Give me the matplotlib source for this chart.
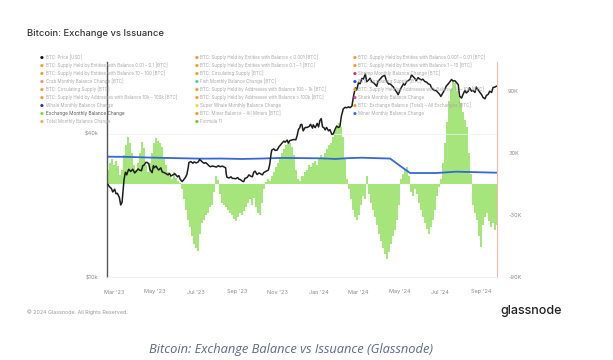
import matplotlib
matplotlib.use("Agg")
import matplotlib.pyplot as plt
import numpy as np
import pandas as pd

# ---------------- data ----------------
start_date = "2023-02-20"

# Exchange Monthly Balance Change [K BTC], one bar every 3 days
bar_step_days = 3
exchange_change = [
    14, 20, 24, 18, 22, 17, 9, 14, 28, 38, 45, 40, 30, 18, 14, 20, 30, 41, 35, 18,
    12, 20, 30, 40, 44, 42, 40, 36, 25, 18, 12, 8, 5, 12, 6, 3, 1, -5, -15, -25,
    -35, -42, -50, -58, -62, -65, -48, -38, -35, -30, -28, -22, -20, -8, 8, 4, -10, -18, -20, -22,
    -25, -28, -30, -34, -36, -32, -28, -30, -26, -22, -18, -15, -20, -14, -22, -28, -30, -18, -5, 2,
    5, 3, 8, 12, 16, 20, 25, 30, 34, 38, 42, 40, 36, 28, 14, 5, 3, 8, 12, 14,
    18, 16, 20, 22, 18, 25, 28, 26, 30, 34, 38, 40, 45, 52, 57, 59, 55, 45, 25, 5,
    -5, -15, -25, -32, -35, -30, -20, -12, -15, 8, -10, -18, -25, -32, -40, -48, -55, -62, -68, -73,
    -66, -58, -50, -45, -35, -20, 5, 10, 14, 16, 8, -8, -12, -5, -10, -18, -25, -32, -38, -44,
    -48, -42, -35, -25, -12, -3, 5, 20, 40, 60, 80, 92, 100, 98, 90, 85, 78, 70, 62, 55,
    30, 10, -20, -28, -35, -50, -61, -40, -32, -28, -36, -42, -38, -45, -40,
]

# BTC price [USD thousands]
price_day = [
    0, 2, 5, 7, 10, 12, 14, 17, 19, 21, 22, 24, 26, 28, 29, 31, 34, 37, 40, 42,
    45, 47, 50, 52, 54, 57, 59, 61, 63, 64, 66, 68, 69, 72, 74, 76, 79, 81, 84, 87,
    90, 92, 94, 97, 100, 102, 104, 106, 108, 111, 113, 116, 118, 120, 121, 124, 127, 129, 132, 135,
    137, 139, 142, 144, 146, 149, 151, 153, 156, 159, 162, 165, 168, 171, 174, 176, 177, 178, 181, 184,
    186, 188, 191, 194, 196, 198, 201, 203, 205, 208, 211, 213, 216, 218, 220, 223, 226, 229, 231, 233,
    236, 238, 240, 242, 244, 245, 248, 250, 253, 256, 258, 260, 263, 265, 268, 270, 272, 275, 278, 281,
    283, 285, 287, 288, 290, 292, 295, 298, 301, 303, 306, 307, 310, 313, 315, 317, 319, 321, 323, 325,
    327, 330, 332, 335, 337, 340, 342, 345, 347, 349, 352, 355, 357, 360, 362, 365, 367, 370, 372, 375,
    377, 380, 382, 385, 387, 390, 392, 395, 397, 400, 402, 404, 407, 410, 412, 414, 417, 420, 422, 425,
    427, 430, 432, 434, 437, 439, 442, 444, 447, 450, 452, 454, 456, 459, 461, 464, 466, 469, 471, 474,
    477, 479, 482, 484, 486, 489, 491, 493, 496, 498, 501, 504, 506, 509, 511, 514, 516, 519, 521, 524,
    526, 529, 531, 534, 536, 539, 541, 544, 546, 549, 551, 554, 556, 559, 561, 564, 566, 569, 571, 574,
    576, 579, 581,
]
price_k = [
    24.5, 24.0, 23.6, 22.8, 23.4, 22.4, 22.5, 21.6, 20.1, 20.6, 22.1, 25.7, 27.6, 26.9, 27.5, 28.4, 27.8, 28.4, 27.4, 27.8,
    28.5, 28.2, 28.0, 29.4, 29.6, 30.4, 30.3, 29.9, 28.2, 28.0, 27.5, 29.4, 28.8, 29.3, 28.6, 28.2, 28.8, 27.7, 27.5, 27.2,
    26.9, 27.3, 26.6, 26.9, 27.2, 26.8, 26.4, 26.7, 25.8, 25.2, 25.6, 26.3, 27.0, 28.9, 30.3, 30.6, 30.1, 30.5, 30.2, 30.5,
    31.2, 30.9, 30.3, 30.1, 30.3, 29.8, 29.4, 29.1, 29.3, 29.2, 29.0, 29.4, 29.1, 29.3, 29.0, 28.8, 27.0, 26.3, 26.1, 26.4,
    26.0, 26.0, 25.9, 26.2, 25.8, 25.7, 25.3, 25.2, 26.0, 26.2, 26.9, 26.6, 26.4, 27.6, 27.9, 27.0, 27.4, 27.1, 26.9, 27.5,
    27.8, 28.0, 28.2, 29.8, 33.0, 34.2, 34.6, 34.1, 34.2, 35.4, 35.9, 36.5, 37.3, 36.9, 37.7, 36.6, 37.5, 37.7, 37.9, 37.8,
    39.4, 41.8, 42.5, 43.7, 43.9, 41.2, 42.6, 42.6, 43.0, 43.9, 42.3, 43.7, 42.5, 44.3, 42.8, 45.5, 46.4, 42.8, 42.5, 41.6,
    42.6, 41.2, 41.7, 39.8, 40.0, 42.0, 43.1, 42.6, 43.0, 47.3, 51.0, 51.8, 51.5, 52.0, 51.6, 52.4, 57.0, 62.5, 61.2, 66.0,
    65.0, 68.5, 68.0, 71.5, 66.3, 67.5, 68.6, 66.0, 65.8, 64.5, 63.5, 66.5, 68.0, 69.6, 70.2, 70.5, 66.5, 64.8, 65.0, 63.8,
    63.0, 61.0, 60.0, 58.5, 61.0, 62.8, 65.0, 64.2, 66.5, 67.3, 68.0, 70.8, 70.0, 68.5, 67.0, 69.0, 68.2, 67.5, 68.0, 66.5,
    66.0, 65.0, 64.5, 62.5, 61.6, 60.8, 61.0, 60.0, 58.8, 57.5, 59.5, 61.6, 63.5, 65.0, 66.0, 67.8, 66.8, 67.0, 66.0, 64.5,
    57.7, 56.6, 58.5, 61.0, 59.5, 60.5, 62.5, 60.5, 61.0, 59.8, 63.0, 61.2, 60.0, 58.5, 57.0, 56.2, 58.0, 58.8, 60.5, 59.8,
    62.7, 63.0, 63.5,
]

# Blue series (right axis, K)
blue_day = [0, 30, 60, 100, 140, 170, 200, 230, 260, 290, 320, 340, 360, 380, 400, 422, 437, 452, 491, 521, 550, 582]
blue_k = [26.4, 26.2, 25.6, 25.0, 24.5, 24.6, 24.2, 24.6, 25.2, 25.0, 24.8, 24.2, 25.0, 25.4, 25.0, 24.6, 17.5, 10.6, 10.6, 11.9, 11.4, 10.9]

x_tick_dates = ["2023-03-01", "2023-05-01", "2023-07-01", "2023-09-01", "2023-11-01",
                "2024-01-01", "2024-03-01", "2024-05-01", "2024-07-01", "2024-09-01"]
x_tick_labels = ["Mar '23", "May '23", "Jul '23", "Sep '23", "Nov '23",
                 "Jan '24", "Mar '24", "May '24", "Jul '24", "Sep '24"]
left_ticks = [10000, 40000]
left_tick_labels = ["$10k", "$40k"]
right_ticks = [-90, -30, 30, 90]
right_tick_labels = ["-90K", "-30K", "30K", "90K"]

legend_cols = [
    [("BTC: Price [USD]", "#111111"),
     ("BTC: Supply Held by Entities with Balance 0.01 – 0.1 [BTC]", "#f29a2e"),
     ("BTC: Supply Held by Entities with Balance 10 – 100 [BTC]", "#f29a2e"),
     ("Crab Monthly Balance Change [BTC]", "#f08a80"),
     ("BTC: Circulating Supply [BTC]", "#f29a2e"),
     ("BTC: Supply Held by Addresses with Balance 10k – 100k [BTC]", "#f29a2e"),
     ("Whale Monthly Balance Change", "#3a2d9c"),
     ("Exchange Monthly Balance Change", "#7fd34a"),
     ("Total Monthly Balance Change", "#e7b04a")],
    [("BTC: Supply Held by Entities with Balance < 0.001 [BTC]", "#f29a2e"),
     ("BTC: Supply Held by Entities with Balance 0.1 – 1 [BTC]", "#f29a2e"),
     ("BTC: Circulating Supply [BTC]", "#f29a2e"),
     ("Fish Monthly Balance Change [BTC]", "#5cc0b5"),
     ("BTC: Supply Held by Addresses with Balance 100 – 1k [BTC]", "#f29a2e"),
     ("BTC: Supply Held by Addresses with Balance > 100k [BTC]", "#f29a2e"),
     ("Super Whale Monthly Balance Change", "#e8d83a"),
     ("BTC: Miner Balance – All Miners [BTC]", "#f29a2e"),
     ("Formula 11", "#6cc53a")],
    [("BTC: Supply Held by Entities with Balance 0.001 – 0.01 [BTC]", "#f29a2e"),
     ("BTC: Supply Held by Entities with Balance 1 – 10 [BTC]", "#f29a2e"),
     ("Shrimp Monthly Balance Change [BTC]", "#c23a5e"),
     ("BTC: Circulating Supply [BTC]", "#1f4fe0"),
     ("BTC: Supply Held by Addresses with Balance 1k – 10k [BTC]", "#f29a2e"),
     ("Shark Monthly Balance Change", "#d5449f"),
     ("BTC: Exchange Balance (Total) – All Exchanges [BTC]", "#f29a2e"),
     ("Miner Monthly Balance Change", "#3a70d0")],
]

# ---------------- figure ----------------
plt.rcParams['font.family'] = ['Inter', 'DejaVu Sans']
W, H = 613, 360
fig = plt.figure(figsize=(W / 100, H / 100), dpi=100)
fig.patch.set_facecolor("white")

L, R, T, B = 107, 497, 62, 277
ax = fig.add_axes([L / W, 1 - B / H, (R - L) / W, (B - T) / H])
axp = ax.twinx()

t0 = pd.Timestamp(start_date)
bar_dates = t0 + pd.to_timedelta(np.arange(len(exchange_change)) * bar_step_days, unit="D")
ax.bar(bar_dates, exchange_change, width=3.0, color="#a6e57c", linewidth=0, zorder=2)

blue_dates = t0 + pd.to_timedelta(blue_day, unit="D")
ax.plot(blue_dates, blue_k, color="#3568d4", lw=1.3, zorder=3)

price_dates = t0 + pd.to_timedelta(price_day, unit="D")
axp.plot(price_dates, np.array(price_k) * 1000, color="#1d1d1d", lw=1.1, zorder=4)

x0 = t0 - pd.Timedelta(days=1.5)
x1 = t0 + pd.Timedelta(days=582)
ax.set_xlim(x0, x1)
ax.set_ylim(-90, 118)
axp.set_yscale("log")
axp.set_ylim(10000, 80300)

ax.yaxis.tick_right()
ax.set_yticks(right_ticks)
ax.set_yticklabels(right_tick_labels)
axp.yaxis.tick_left()
axp.set_yticks(left_ticks)
axp.set_yticklabels(left_tick_labels)
axp.yaxis.set_minor_locator(matplotlib.ticker.NullLocator())

ax.set_xticks(pd.to_datetime(x_tick_dates))
ax.set_xticklabels(x_tick_labels)

for a in (ax, axp):
    a.tick_params(axis="both", length=0, labelsize=4, labelcolor="#8a8a8a", pad=6)
    for s in a.spines.values():
        s.set_visible(False)
ax.tick_params(axis="y", pad=8)
axp.tick_params(axis="y", pad=6)
ax.tick_params(axis="x", pad=9)

axp.spines["left"].set_visible(True)
axp.spines["left"].set_color("#555555")
axp.spines["left"].set_linewidth(1.0)
axp.spines["right"].set_visible(True)
axp.spines["right"].set_color("#f2b9aa")
axp.spines["right"].set_linewidth(0.8)
axp.spines["bottom"].set_visible(True)
axp.spines["bottom"].set_color("#eeeeee")
axp.spines["bottom"].set_linewidth(0.6)

axp.axhline(40000, color="#f2f2f2", lw=0.5, zorder=0)

# ---------------- title & legend ----------------
fig.text(27 / W, 1 - 34 / H, "Bitcoin: Exchange vs Issuance", fontsize=6.8,
         color="#333333", fontweight="medium", va="center", ha="left")

col_x = [42, 197, 355]
row_y0, row_dy = 57.5, 8.0
for ci, col in enumerate(legend_cols):
    for ri, (label, c) in enumerate(col):
        y = 1 - (row_y0 + ri * row_dy) / H
        fig.text(col_x[ci] / W, y, "●", fontsize=3.2, color=c, va="center", ha="center",
                 family=["DejaVu Sans"])
        bold = label == "Exchange Monthly Balance Change"
        fig.text((col_x[ci] + 3.5) / W, y, label, fontsize=3.2 if not bold else 3.4,
                 color="#555555" if bold else "#a8a8a8", va="center", ha="left")

# ---------------- footer ----------------
fig.text(27 / W, 1 - 312 / H, "© 2024 Glassnode. All Rights Reserved.", fontsize=3.8,
         color="#9a9a9a", va="center", ha="left")
fig.text(531 / W, 1 - 311 / H, "glassnode", fontsize=9, color="#222222",
         fontweight="medium", va="center", ha="center")
fig.text(291 / W, 1 - 349 / H, "Bitcoin: Exchange Balance vs Issuance (Glassnode)",
         fontsize=9.3, color="#5b6a86", style="italic", va="center", ha="center",
         family=["Open Sans", "DejaVu Sans"])

fig.savefig("out.png", dpi=100, facecolor="white")
